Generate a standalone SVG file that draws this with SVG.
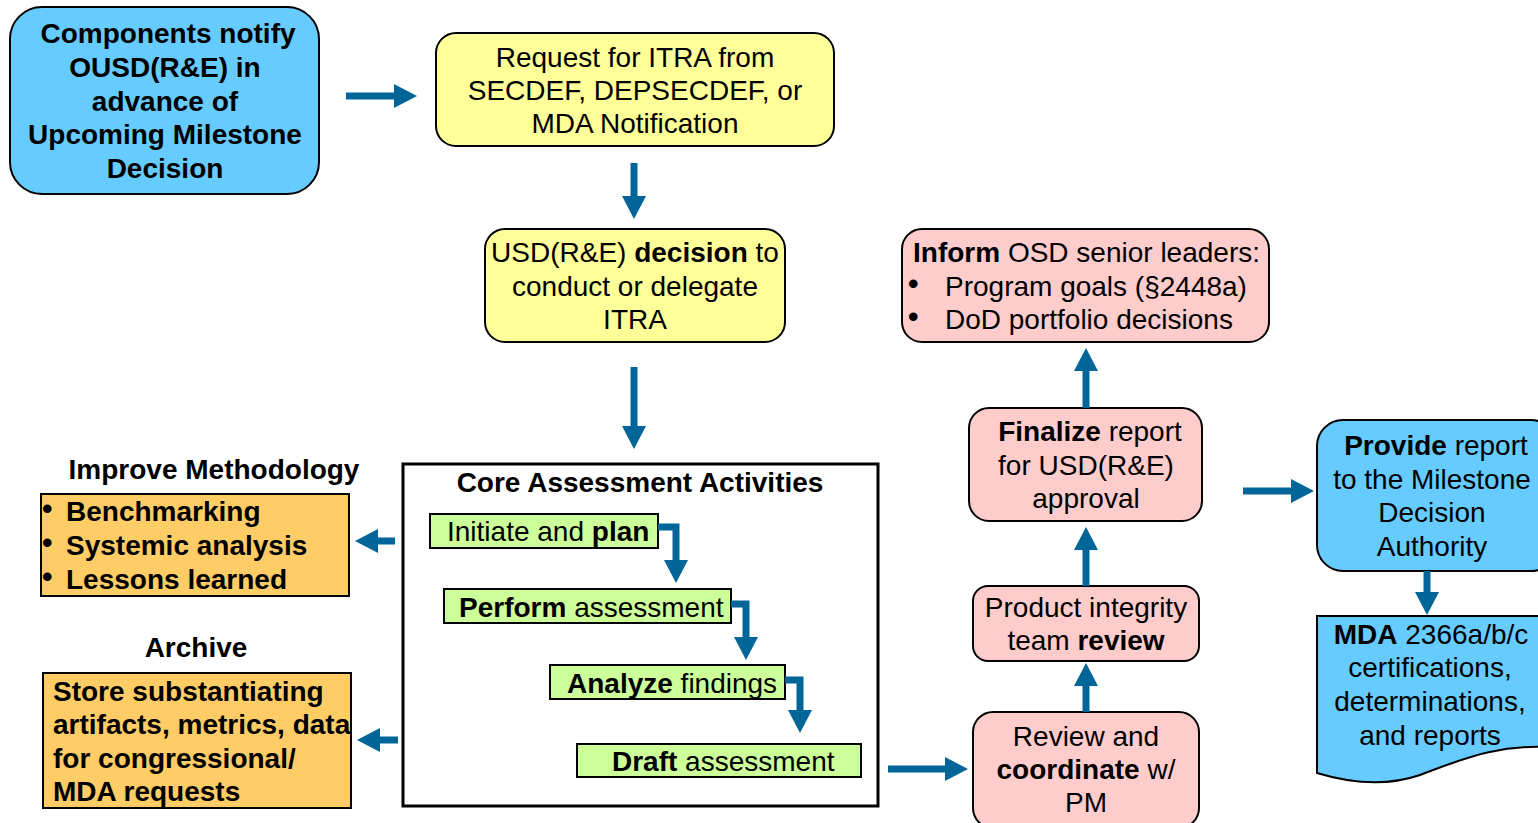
<svg xmlns="http://www.w3.org/2000/svg" width="1538" height="823" viewBox="0 0 1538 823">
  <style>
    text { font-family: "Liberation Sans", Arial, sans-serif; font-size: 28px; fill: #000; }
    .b { font-weight: bold; }
    .c { text-anchor: middle; }
    .dot { font-size: 30px; font-weight: bold; }
    .blue { fill: #66CCFF; stroke: #000; stroke-width: 2; }
    .yellow { fill: #FFFF99; stroke: #000; stroke-width: 2; }
    .pink { fill: #FFCCCC; stroke: #000; stroke-width: 2; }
    .green { fill: #CCFF99; stroke: #000; stroke-width: 2; }
    .orange { fill: #FFCC66; stroke: #000; stroke-width: 2; }
    .frame { fill: #fff; stroke: #000; stroke-width: 3; }
    .arrow { fill: none; stroke: #006699; stroke-width: 7; marker-end: url(#head); }
  </style>
  <defs>
    <marker id="head" markerUnits="userSpaceOnUse" markerWidth="24" markerHeight="24" viewBox="0 0 24 24" refX="0" refY="12" orient="auto">
      <path d="M0,0 L23,12 L0,24 Z" fill="#006699"/>
    </marker>
  </defs>

  <rect width="1538" height="823" fill="#fff"/>

  <!-- start: component notification -->
  <g id="notify">
    <rect class="blue" x="10" y="7" width="309" height="187" rx="32"/>
    <text class="b c" x="168" y="43">Components notify</text>
    <text class="b c" x="165" y="77">OUSD(R&amp;E) in</text>
    <text class="b c" x="165" y="111">advance of</text>
    <text class="b c" x="165" y="144">Upcoming Milestone</text>
    <text class="b c" x="165" y="178">Decision</text>
  </g>

  <g id="request">
    <rect class="yellow" x="436" y="33" width="398" height="113" rx="20"/>
    <text class="c" x="635" y="67">Request for ITRA from</text>
    <text class="c" x="635" y="100">SECDEF, DEPSECDEF, or</text>
    <text class="c" x="635" y="133">MDA Notification</text>
  </g>

  <g id="decision">
    <rect class="yellow" x="485" y="229" width="300" height="113" rx="20"/>
    <text class="c" x="635" y="262">USD(R&amp;E) <tspan class="b">decision</tspan> to</text>
    <text class="c" x="635" y="296">conduct or delegate</text>
    <text class="c" x="635" y="329">ITRA</text>
  </g>

  <!-- core activities frame with its four steps -->
  <g id="core">
    <rect class="frame" x="403" y="464" width="475" height="342"/>
    <text class="b c" x="640" y="492">Core Assessment Activities</text>
  </g>
  <g id="initiate">
    <rect class="green" x="430" y="514" width="228" height="34"/>
    <text x="447" y="541">Initiate and <tspan class="b">plan</tspan></text>
  </g>
  <g id="perform">
    <rect class="green" x="444" y="589" width="287" height="34"/>
    <text x="459" y="617"><tspan class="b">Perform</tspan> assessment</text>
  </g>
  <g id="analyze">
    <rect class="green" x="550" y="665" width="235" height="34"/>
    <text x="567" y="693"><tspan class="b">Analyze</tspan> findings</text>
  </g>
  <g id="draft">
    <rect class="green" x="577" y="744" width="284" height="33"/>
    <text x="612" y="771"><tspan class="b">Draft</tspan> assessment</text>
  </g>

  <!-- side outputs of the core activities -->
  <g id="improve">
    <text class="b c" x="214" y="479">Improve Methodology</text>
    <rect class="orange" x="41" y="494" width="308" height="102"/>
    <text class="b" x="42" y="519"><tspan class="dot">•</tspan><tspan x="66" y="521">Benchmarking</tspan></text>
    <text class="b" x="42" y="553"><tspan class="dot">•</tspan><tspan x="66" y="555">Systemic analysis</tspan></text>
    <text class="b" x="42" y="587"><tspan class="dot">•</tspan><tspan x="66" y="589">Lessons learned</tspan></text>
  </g>

  <g id="archive">
    <text class="b c" x="196" y="657">Archive</text>
    <rect class="orange" x="43" y="673" width="308" height="135"/>
    <text class="b" x="53" y="701">Store substantiating</text>
    <text class="b" x="53" y="734">artifacts, metrics, data</text>
    <text class="b" x="53" y="768">for congressional/</text>
    <text class="b" x="53" y="801">MDA requests</text>
  </g>

  <!-- review and reporting chain -->
  <g id="coordinate">
    <rect class="pink" x="973" y="712" width="226" height="116" rx="20"/>
    <text class="c" x="1086" y="746">Review and</text>
    <text class="c" x="1086" y="779"><tspan class="b">coordinate</tspan> w/</text>
    <text class="c" x="1086" y="812">PM</text>
  </g>

  <g id="integrity">
    <rect class="pink" x="973" y="586" width="226" height="75" rx="15"/>
    <text class="c" x="1086" y="617">Product integrity</text>
    <text class="c" x="1086" y="650">team <tspan class="b">review</tspan></text>
  </g>

  <g id="finalize">
    <rect class="pink" x="969" y="408" width="233" height="113" rx="20"/>
    <text class="c" x="1090" y="441"><tspan class="b">Finalize</tspan> report</text>
    <text class="c" x="1086" y="475">for USD(R&amp;E)</text>
    <text class="c" x="1086" y="508">approval</text>
  </g>

  <g id="inform">
    <rect class="pink" x="902" y="229" width="367" height="113" rx="20"/>
    <text x="913" y="262"><tspan class="b">Inform</tspan> OSD senior leaders:</text>
    <text x="908" y="294"><tspan class="dot">•</tspan><tspan x="945" y="296">Program goals (§2448a)</tspan></text>
    <text x="908" y="327"><tspan class="dot">•</tspan><tspan x="945" y="329">DoD portfolio decisions</tspan></text>
  </g>

  <g id="provide">
    <rect class="blue" x="1317" y="420" width="240" height="151" rx="26"/>
    <text class="c" x="1436" y="455"><tspan class="b">Provide</tspan> report</text>
    <text class="c" x="1432" y="489">to the Milestone</text>
    <text class="c" x="1432" y="522">Decision</text>
    <text class="c" x="1432" y="556">Authority</text>
  </g>

  <g id="mda">
    <path class="blue" d="M1317,616 H1560 V748 C1500,742 1460,760 1420,775 C1385,787 1350,783 1317,773 Z"/>
    <text class="c" x="1431" y="644"><tspan class="b">MDA</tspan> 2366a/b/c</text>
    <text class="c" x="1430" y="677">certifications,</text>
    <text class="c" x="1430" y="711">determinations,</text>
    <text class="c" x="1430" y="745">and reports</text>
  </g>

  <!-- connectors -->
  <g id="connectors">
    <path class="arrow" d="M346,96 H394"/>
    <path class="arrow" d="M634,163 V196"/>
    <path class="arrow" d="M634,367 V426"/>
    <path class="arrow" d="M658,527 H676 V560"/>
    <path class="arrow" d="M731,604 H746 V637"/>
    <path class="arrow" d="M785,680 H800 V710"/>
    <path class="arrow" d="M395,541 H378"/>
    <path class="arrow" d="M398,740 H380"/>
    <path class="arrow" d="M888,769 H945"/>
    <path class="arrow" d="M1086,712 V686"/>
    <path class="arrow" d="M1086,586 V550"/>
    <path class="arrow" d="M1086,408 V371"/>
    <path class="arrow" d="M1243,491 H1291"/>
    <path class="arrow" d="M1427,571 V592"/>
  </g>
</svg>
